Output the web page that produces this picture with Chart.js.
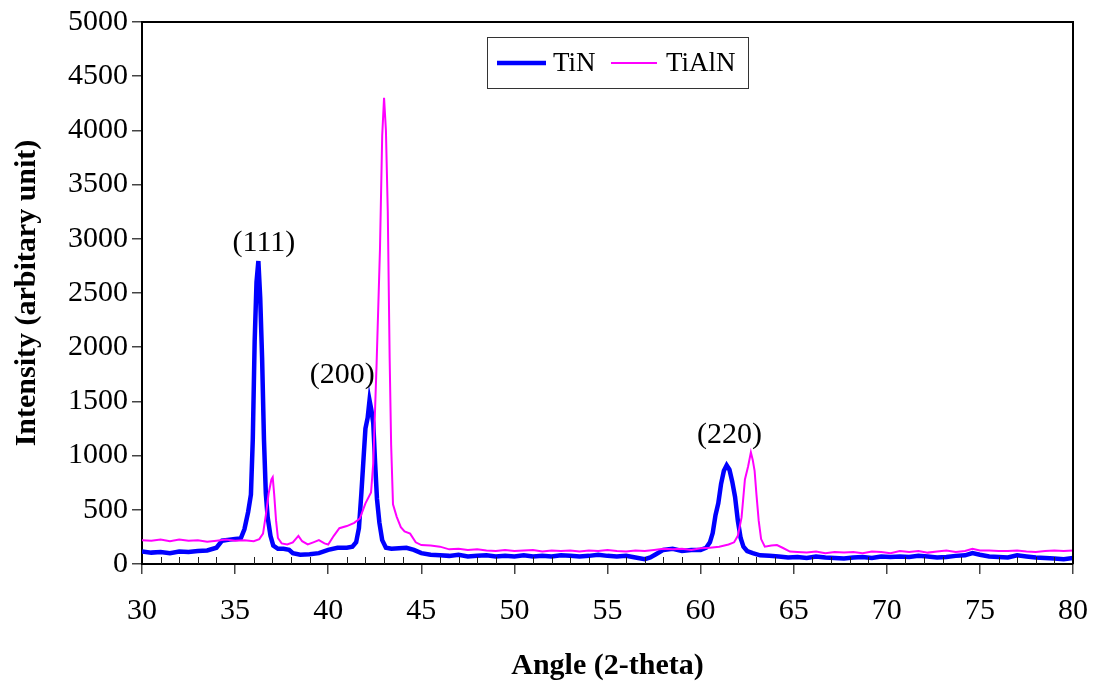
<!DOCTYPE html>
<html>
<head>
<meta charset="utf-8">
<script src="https://cdn.jsdelivr.net/npm/chart.js@4/dist/chart.umd.min.js"></script>
<style>
html,body{margin:0;padding:0;background:#fff;}
canvas{display:block;}
</style>
</head>
<body>
<canvas id="c" width="1093" height="684"></canvas>
<script>
// ---- data ----
const tinAngle = [30.0,30.5,31.0,31.5,32.0,32.5,33.0,33.5,34.0,34.3,34.7,35.0,35.3,35.5,35.7,35.85,35.95,36.05,36.15,36.25,36.35,36.45,36.55,36.65,36.75,36.9,37.05,37.3,37.6,37.9,38.1,38.5,39.0,39.5,40.0,40.5,41.0,41.3,41.5,41.65,41.78,41.9,42.0,42.12,42.22,42.32,42.42,42.52,42.62,42.75,42.9,43.1,43.4,43.8,44.2,44.6,45.0,45.5,46,46.5,47,47.5,48,48.5,49,49.5,50,50.5,51,51.5,52,52.5,53,53.5,54,54.5,55,55.5,56,56.5,57,57.3,57.6,58,58.5,59,59.5,60,60.3,60.5,60.65,60.8,60.95,61.1,61.25,61.4,61.55,61.7,61.85,62.0,62.15,62.3,62.5,62.8,63.2,63.7,64.2,64.7,65.2,65.7,66.2,66.7,67.2,67.7,68.2,68.7,69.2,69.7,70.2,70.7,71.2,71.7,72.2,72.7,73.2,73.7,74.2,74.6,75,75.5,76,76.5,77,77.5,78,78.5,79,79.5,80];
const tinIntensity = [115,105,110,100,115,110,120,125,150,215,225,230,235,320,480,640,1150,2050,2600,2795,2450,1900,1150,650,430,260,170,140,140,130,100,85,90,100,130,150,150,160,200,330,650,980,1250,1350,1510,1420,1300,930,600,380,220,150,140,145,150,130,100,85,80,75,85,70,75,80,70,75,70,80,70,75,70,80,75,70,75,85,75,70,75,60,45,60,90,130,140,120,130,130,150,200,285,450,560,740,860,910,870,760,620,400,240,160,120,100,80,75,70,60,65,55,70,60,55,50,60,65,55,70,65,70,65,75,70,60,65,75,80,100,85,70,65,60,80,70,60,55,50,45,55];

const tialnAngle = [30.0,30.5,31.0,31.5,32.0,32.5,33.0,33.5,34.0,34.5,35.0,35.5,36.0,36.3,36.5,36.65,36.8,36.95,37.02,37.1,37.2,37.3,37.5,37.8,38.1,38.4,38.6,38.9,39.2,39.5,39.8,40.0,40.3,40.6,41.0,41.4,41.7,42.0,42.3,42.42,42.6,42.78,42.9,43.0,43.1,43.2,43.3,43.38,43.48,43.68,43.9,44.1,44.4,44.7,45,45.5,46,46.5,47,47.5,48,48.5,49,49.5,50,50.5,51,51.5,52,52.5,53,53.5,54,54.5,55,55.5,56,56.5,57,57.5,58,58.5,59,59.5,60,60.5,61,61.5,61.8,62.0,62.2,62.38,62.55,62.7,62.8,62.9,63.0,63.12,63.25,63.45,63.8,64.1,64.4,64.8,65.2,65.7,66.2,66.7,67.2,67.7,68.2,68.7,69.2,69.7,70.2,70.7,71.2,71.7,72.2,72.7,73.2,73.7,74.2,74.6,75.0,75.5,76,76.5,77,77.5,78,78.5,79,79.5,80];
const tialnIntensity = [220,215,225,210,225,215,220,205,215,225,215,220,210,230,280,450,650,780,800,640,400,240,190,180,200,260,210,180,200,220,190,180,260,330,350,380,420,560,660,930,1850,2900,3950,4300,4000,3250,1900,1100,550,435,340,300,280,200,175,170,160,135,140,130,135,125,120,130,120,125,130,115,125,120,125,115,125,120,130,120,115,125,120,130,140,135,140,130,145,150,160,180,200,260,430,780,900,1030,960,860,640,400,230,160,170,175,150,115,110,105,115,100,110,105,110,100,115,110,100,120,110,120,105,115,125,110,120,140,125,125,120,120,125,115,110,120,125,120,125];

const seriesNames = ['TiN', 'TiAlN'];
const xTickStep = 5;
const yTickStep = 500;
const peakLabels = ['(111)', '(200)', '(220)'];
const peakLabelAngle = [36.55, 40.75, 61.55];
const peakLabelIntensity = [2960, 1740, 1190];

const serif = "'Liberation Serif', 'Times New Roman', Times, serif";

function pts(xs, ys){ return xs.map((x,i)=>({x:x, y:ys[i]})); }

const decorations = {
  id: 'decorations',
  afterDraw(chart){
    const {ctx, chartArea:a, scales:{x, y}} = chart;
    ctx.save();
    // frame top/right
    ctx.strokeStyle = '#000';
    ctx.lineWidth = 2;
    ctx.beginPath();
    ctx.moveTo(a.left, a.top); ctx.lineTo(a.right, a.top); ctx.lineTo(a.right, a.bottom);
    ctx.stroke();
    // minor x ticks (inside)
    ctx.lineWidth = 1;
    ctx.strokeStyle = '#222';
    for (let v = x.min + 1; v < x.max; v += 1){
      if (v % xTickStep === 0) continue;
      const px = Math.round(x.getPixelForValue(v)) + 0.5;
      ctx.beginPath(); ctx.moveTo(px, a.bottom); ctx.lineTo(px, a.bottom - 7); ctx.stroke();
    }
    // peak labels
    ctx.fillStyle = '#000';
    ctx.font = '30px ' + serif;
    ctx.textAlign = 'center';
    ctx.textBaseline = 'middle';
    peakLabels.forEach((t,i)=>{
      ctx.fillText(t, x.getPixelForValue(peakLabelAngle[i]), y.getPixelForValue(peakLabelIntensity[i]));
    });
    // legend
    const lx = 487, ly = 37, lw = 261, lh = 51;
    ctx.fillStyle = '#fff';
    ctx.fillRect(lx, ly, lw, lh);
    ctx.strokeStyle = '#333';
    ctx.lineWidth = 1;
    ctx.strokeRect(lx + 0.5, ly + 0.5, lw, lh);
    const ds = chart.data.datasets;
    const cy = ly + 26;
    const items = [{x0:497, x1:546, tx:553}, {x0:611, x1:657, tx:666}];
    ctx.font = '27px ' + serif;
    ctx.textAlign = 'left';
    ctx.textBaseline = 'middle';
    items.forEach((it,i)=>{
      ctx.strokeStyle = ds[i].borderColor;
      ctx.lineWidth = ds[i].borderWidth;
      ctx.beginPath(); ctx.moveTo(it.x0, cy); ctx.lineTo(it.x1, cy); ctx.stroke();
      ctx.fillStyle = '#000';
      ctx.fillText(ds[i].label, it.tx, cy + 1);
    });
    ctx.restore();
  }
};

new Chart(document.getElementById('c'), {
  type: 'line',
  data: {
    datasets: [
      { label: seriesNames[0], data: pts(tinAngle, tinIntensity), borderColor: '#0000ff', borderWidth: 4.5, pointRadius: 0, tension: 0, order: 1 },
      { label: seriesNames[1], data: pts(tialnAngle, tialnIntensity), borderColor: '#ff00ff', borderWidth: 2, pointRadius: 0, tension: 0, order: 0 }
    ]
  },
  options: {
    responsive: false,
    animation: false,
    layout: { padding: { top: 22, right: 20, left: 0, bottom: 0 } },
    plugins: { legend: { display: false }, tooltip: { enabled: false } },
    scales: {
      x: {
        type: 'linear', min: 30, max: 80,
        afterFit(s){ s.height = 120; s.paddingLeft = 0; s.paddingRight = 0; },
        ticks: { stepSize: xTickStep, color: '#000', padding: 19, font: { family: serif, size: 30 }, maxRotation: 0, callback: v => String(v) },
        grid: { drawOnChartArea: false, drawTicks: true, tickLength: 10, color: '#444', lineWidth: 1.5 },
        border: { display: true, color: '#000', width: 2 },
        title: { display: true, text: 'Angle (2-theta)', color: '#000', font: { family: serif, size: 30, weight: 'bold' }, padding: { top: 0, bottom: 0 } }
      },
      y: {
        min: 0, max: 5000,
        afterFit(s){ s.width = 142; s.paddingTop = 0; s.paddingBottom = 0; },
        ticks: { stepSize: yTickStep, color: '#000', padding: 4, font: { family: serif, size: 30 }, callback: v => String(v) },
        grid: { drawOnChartArea: false, drawTicks: true, tickLength: 10, color: '#444', lineWidth: 1.5 },
        border: { display: true, color: '#000', width: 2 },
        title: { display: true, text: 'Intensity (arbitary unit)', color: '#000', font: { family: serif, size: 30, weight: 'bold' }, padding: { top: 9, bottom: 0 } }
      }
    }
  },
  plugins: [decorations]
});
</script>
</body>
</html>
